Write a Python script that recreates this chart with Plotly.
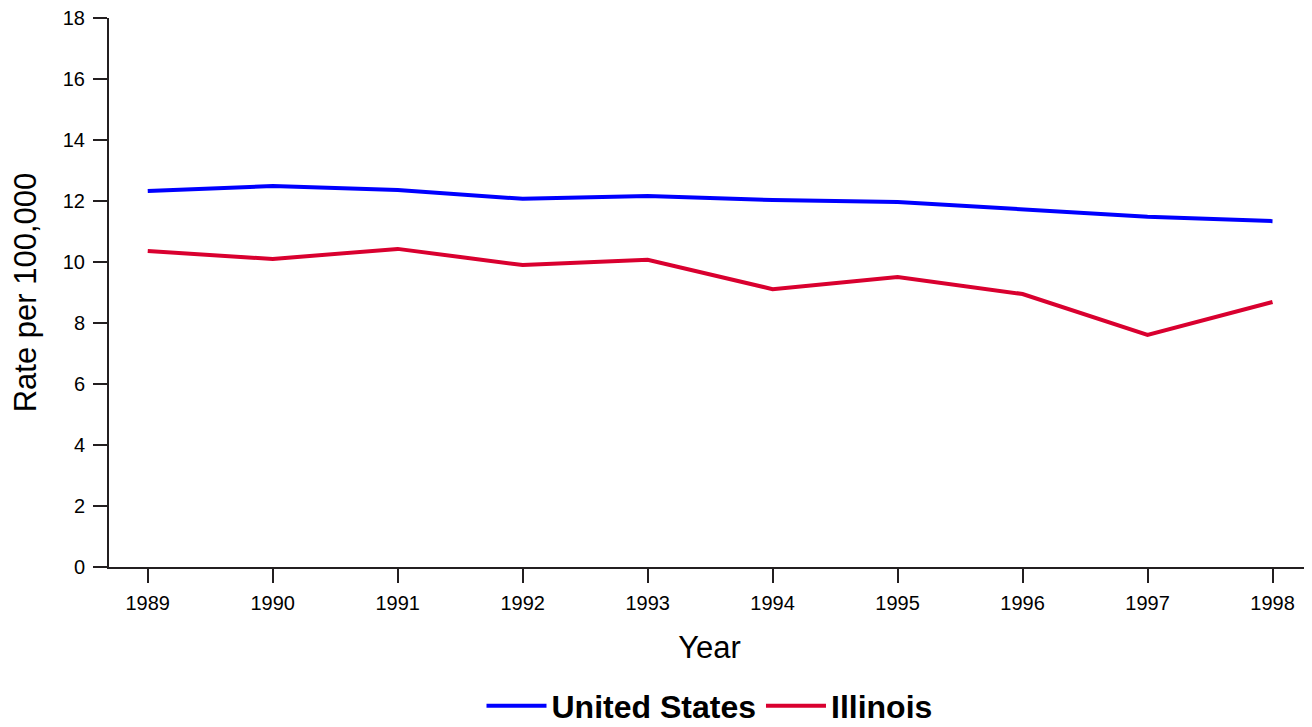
import plotly.graph_objects as go

years = [1989, 1990, 1991, 1992, 1993, 1994, 1995, 1996, 1997, 1998]
us_rate = [12.33, 12.49, 12.36, 12.07, 12.16, 12.03, 11.97, 11.74, 11.48, 11.34]
il_rate = [10.36, 10.10, 10.43, 9.90, 10.07, 9.11, 9.51, 8.95, 7.61, 8.69]
y_ticks = [0, 2, 4, 6, 8, 10, 12, 14, 16, 18]

axis_color = "#231f20"
font_family = "Liberation Sans"

fig = go.Figure()
fig.add_trace(go.Scatter(x=years, y=us_rate, mode="lines", name="United States",
                         line=dict(color="#0000ff", width=4)))
fig.add_trace(go.Scatter(x=years, y=il_rate, mode="lines", name="Illinois",
                         line=dict(color="#d9002f", width=4)))

fig.update_layout(
    width=1312, height=760,
    paper_bgcolor="white", plot_bgcolor="white",
    margin=dict(l=101, r=10, t=10, b=201),
    font=dict(family=font_family, color="black", size=20),
    showlegend=True,
    legend=dict(orientation="h", x=0.5, xanchor="center", y=-0.203, yanchor="top",
                font=dict(size=32, family=font_family, weight="bold"),
                itemwidth=60, tracegroupgap=0),
    xaxis=dict(range=[1988.69, 1998.3], tickvals=years, ticktext=[str(y) for y in years],
               showline=True, linecolor=axis_color, linewidth=2, automargin=False,
               ticks="outside", ticklen=14, tickwidth=2, tickcolor=axis_color,
               ticklabelstandoff=3, ticklabeloverflow="allow",
               showgrid=False, zeroline=False, tickfont=dict(size=20),
               title=dict(text="Year", font=dict(size=31), standoff=23)),
    yaxis=dict(range=[0, 18], tickvals=y_ticks, automargin=False,
               showline=True, linecolor=axis_color, linewidth=2,
               ticks="outside", ticklen=14, tickwidth=2, tickcolor=axis_color,
               ticklabelstandoff=4, ticklabeloverflow="allow",
               showgrid=False, zeroline=False, tickfont=dict(size=20),
               title=dict(text="Rate per 100,000", font=dict(size=31), standoff=17)),
)

fig.write_html("out.html")
